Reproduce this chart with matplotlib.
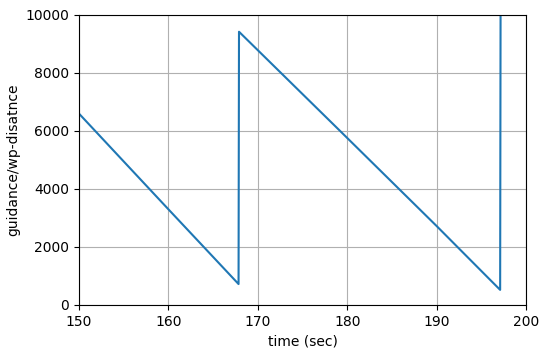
import matplotlib
matplotlib.use("Agg")
import matplotlib.pyplot as plt

# guidance waypoint distance samples
time_sec = [150.0, 160.0, 167.85, 167.9, 179.2, 190.0, 196.0, 197.1, 197.15]
wp_distance = [6600, 3300, 720, 9420, 6000, 2720, 860, 520, 10600]

fig = plt.figure(figsize=(5.48, 3.55), dpi=100)
ax = fig.add_axes([0.144, 0.141, 0.816, 0.817])

ax.plot(time_sec, wp_distance, color="#1f77b4", linewidth=1.5)
ax.set_xlim(150, 200)
ax.set_ylim(0, 10000)
ax.set_xticks([150, 160, 170, 180, 190, 200])
ax.set_yticks([0, 2000, 4000, 6000, 8000, 10000])
ax.grid(True)
ax.set_xlabel("time (sec)")
ax.set_ylabel("guidance/wp-disatnce")

fig.savefig("out.png", dpi=100)
